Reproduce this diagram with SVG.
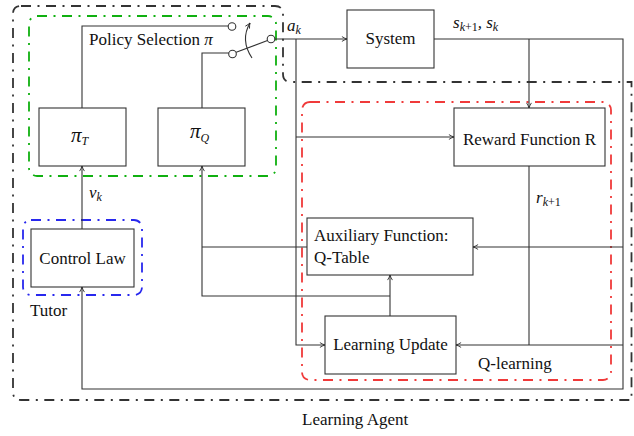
<svg xmlns="http://www.w3.org/2000/svg" width="634" height="436" viewBox="0 0 634 436">
<defs>
<marker id="arr" viewBox="0 0 10 10" refX="9.5" refY="5" markerWidth="6" markerHeight="6" markerUnits="userSpaceOnUse" orient="auto">
<path d="M1,1 Q6,4 9.5,5 Q6,6 1,9" fill="none" stroke="#222" stroke-width="1.4"/>
</marker>
</defs>
<style>
.box{fill:#fff;stroke:#333;stroke-width:1.1}
.ln{fill:none;stroke:#333;stroke-width:1.1}
.t{font-family:"Liberation Serif",serif;font-size:17px;fill:#111}
.m{font-family:"Liberation Serif",serif;font-size:17px;font-style:italic;fill:#111}
.s{font-size:12px}
.u{font-style:normal}
.pi{font-size:21px}
.dd{fill:none;stroke-width:1.8;stroke-dasharray:10 6.5 2 6.5}
</style>
<rect width="634" height="436" fill="#fff"/>

<g id="learning-agent">
<path class="dd" stroke="#333" stroke-width="1.5" d="M21,6 H275 Q283,6 283,14 V74 Q283,82 291,82 H631.5 V400 H21 Q13,400 13,392 V14 Q13,6 21,6 Z"/>
<text class="t" x="302" y="425">Learning Agent</text>
</g>
<g id="policy-selection">
<rect class="dd" stroke="#10b010" x="29" y="16" width="247" height="160" rx="8"/>
<text class="t" x="89" y="45">Policy Selection <tspan class="m">π</tspan></text>
</g>
<g id="tutor">
<rect class="dd" stroke="#2828ee" x="23" y="220" width="119" height="75" rx="8"/>
<text class="t" x="30" y="316">Tutor</text>
</g>
<g id="q-learning">
<rect class="dd" stroke="#f03a3a" x="302" y="102" width="309" height="278" rx="8"/>
<text class="t" x="478" y="369">Q-learning</text>
</g>

<g id="connectors">
<path class="ln" d="M82,108 V26 H228"/>
<path class="ln" d="M202,108 V53 H229"/>
<path class="ln" d="M267.5,40.5 L235.5,52.5"/>
<path class="ln" d="M252,58 Q240,40 250,23" marker-end="url(#arr)"/>
<circle cx="232" cy="26.5" r="3.8" fill="#fff" stroke="#333" stroke-width="1.1"/>
<circle cx="232.5" cy="54" r="3.8" fill="#fff" stroke="#333" stroke-width="1.1"/>
<circle cx="271" cy="39" r="3.8" fill="#fff" stroke="#333" stroke-width="1.1"/>
<path class="ln" d="M275,39 H347" marker-end="url(#arr)"/>
<path class="ln" d="M296,39 V345 H325" marker-end="url(#arr)"/>
<path class="ln" d="M296,137 H454" marker-end="url(#arr)"/>
<path class="ln" d="M434,39 H623 V389 H82 V287" marker-end="url(#arr)"/>
<path class="ln" d="M529,39 V108" marker-end="url(#arr)"/>
<path class="ln" d="M623,247 H473" marker-end="url(#arr)"/>
<path class="ln" d="M623,345 H456" marker-end="url(#arr)"/>
<path class="ln" d="M529,166 V345"/>
<path class="ln" d="M390,316 V275" marker-end="url(#arr)"/>
<path class="ln" d="M390,296 H202 V166" marker-end="url(#arr)"/>
<path class="ln" d="M307,247 H202"/>
<path class="ln" d="M82,229 V166" marker-end="url(#arr)"/>
<text class="m" x="287" y="31">a<tspan class="s" dy="3">k</tspan></text>
<text class="m" x="453" y="28">s<tspan class="s" dy="3">k<tspan class="u">+1</tspan></tspan><tspan dy="-3">, s</tspan><tspan class="s" dy="3">k</tspan></text>
<text class="m" x="536" y="203">r<tspan class="s" dy="3">k<tspan class="u">+1</tspan></tspan></text>
<text class="m" x="89" y="198">v<tspan class="s" dy="3">k</tspan></text>
</g>

<g id="pi-t">
<rect class="box" x="39" y="108" width="87" height="58"/>
<text class="m" x="71" y="142"><tspan class="pi">π</tspan><tspan class="s" dy="3">T</tspan></text>
</g>
<g id="pi-q">
<rect class="box" x="158" y="108" width="87" height="58"/>
<text class="m" x="190" y="138"><tspan class="pi">π</tspan><tspan class="s" dy="4">Q</tspan></text>
</g>
<g id="control-law">
<rect class="box" x="31" y="229" width="103" height="58"/>
<text class="t" x="82.5" y="264" text-anchor="middle">Control Law</text>
</g>
<g id="system">
<rect class="box" x="347" y="10" width="87" height="58"/>
<text class="t" x="390.5" y="44" text-anchor="middle">System</text>
</g>
<g id="reward">
<rect class="box" x="454" y="108" width="151" height="58"/>
<text class="t" x="529.5" y="145" text-anchor="middle">Reward Function R</text>
</g>
<g id="aux">
<rect class="box" x="307" y="218" width="166" height="57"/>
<text class="t" x="314" y="241">Auxiliary Function:</text>
<text class="t" x="314" y="263">Q-Table</text>
</g>
<g id="learning-update">
<rect class="box" x="325" y="316" width="131" height="58"/>
<text class="t" x="390.5" y="350" text-anchor="middle">Learning Update</text>
</g>
</svg>
